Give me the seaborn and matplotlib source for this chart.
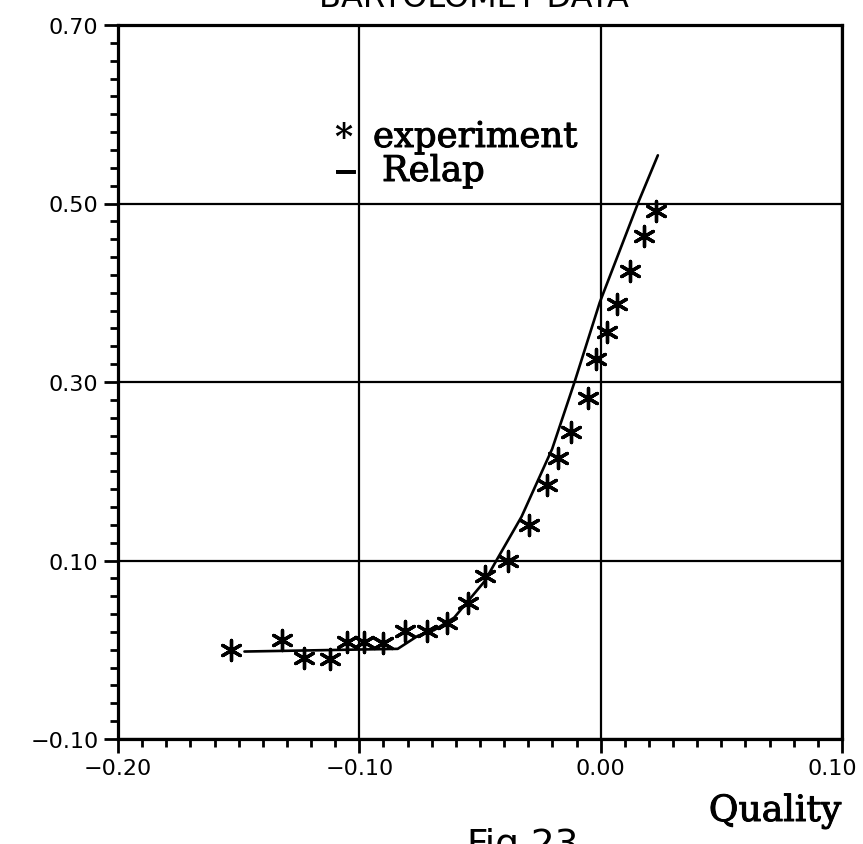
import matplotlib
matplotlib.use("Agg")
import matplotlib.pyplot as plt
import matplotlib.patheffects as pe
import matplotlib.transforms as mtransforms
import seaborn as sns
from matplotlib.ticker import FixedLocator, MultipleLocator

# Measured void fraction (experiment) against quality
exp_quality = [-0.153, -0.132, -0.123, -0.112, -0.105, -0.098, -0.090, -0.081,
               -0.072, -0.0636, -0.055, -0.048, -0.0385, -0.0298, -0.0221,
               -0.0177, -0.0125, -0.0052, -0.0021, 0.0028, 0.0067, 0.012,
               0.018, 0.0228]
exp_value = [0.000, 0.011, -0.009, -0.010, 0.009, 0.009, 0.008, 0.021,
             0.021, 0.030, 0.052, 0.083, 0.099, 0.140, 0.185, 0.2145,
             0.244, 0.282, 0.326, 0.356, 0.387, 0.424, 0.464, 0.492]

# Relap calculation
relap_quality = [-0.1476, -0.0841, -0.0758, -0.069, -0.0607, -0.048, -0.043,
                 -0.0328, -0.0201, -0.0107, -0.0004, 0.0157, 0.0237]
relap_value = [-0.002, 0.001, 0.0155, 0.022, 0.036, 0.077, 0.101,
               0.149, 0.225, 0.301, 0.389, 0.502, 0.554]

x_ticks = [-0.20, -0.10, 0.00, 0.10]
x_tick_labels = ["\u22120.20", "\u22120.10", "0.00", "0.10"]
y_ticks = [-0.10, 0.10, 0.30, 0.50, 0.70]
y_tick_labels = ["\u22120.10", "0.10", "0.30", "0.50", "0.70"]

sns.set_theme(style="white")
plt.rcParams["font.family"] = ["DejaVu Sans"]
plt.rcParams["text.color"] = "black"

W, H = 863, 845
fig = plt.figure(figsize=(W / 100, H / 100), dpi=100)
ax = fig.add_axes([118 / W, 1 - 740 / H, 724 / W, 714 / H])

sns.lineplot(x=relap_quality, y=relap_value, sort=False, estimator=None,
             color="black", linewidth=1.9, ax=ax)
sns.scatterplot(x=exp_quality, y=exp_value, marker=(6, 2, 0), s=210,
                color="black", edgecolor="black", linewidth=2.4, ax=ax,
                zorder=3)

ax.set_xlim(-0.2, 0.1)
ax.set_ylim(-0.1, 0.7)
ax.xaxis.set_major_locator(FixedLocator(x_ticks))
ax.set_xticklabels(x_tick_labels)
ax.yaxis.set_major_locator(FixedLocator(y_ticks))
ax.set_yticklabels(y_tick_labels)
ax.xaxis.set_minor_locator(MultipleLocator(0.01))
ax.yaxis.set_minor_locator(MultipleLocator(0.02))

ax.tick_params(which="major", direction="out", length=10, width=2,
               color="black", labelcolor="black", labelsize=16,
               bottom=True, left=True, top=False, right=False, pad=4)
ax.tick_params(which="minor", direction="out", length=6, width=2,
               color="black", bottom=True, left=True, top=False, right=False)
ax.grid(True, which="major", color="black", linewidth=1.6)
ax.grid(False, which="minor")
for sp in ax.spines.values():
    sp.set_visible(True)
    sp.set_color("black")
    sp.set_linewidth(2.3)
ax.set_xlabel("")
ax.set_ylabel("")

# keep the rightmost x label inside the figure
last = ax.get_xticklabels()[-1]
last.set_transform(last.get_transform() +
                   mtransforms.ScaledTranslation(-10 / 100, 0, fig.dpi_scale_trans))

# legend drawn as text
def axfrac(px, py):
    return (px - 118) / 724, (740 - py) / 714

serif = ["DejaVu Serif"]
heavy = [pe.withStroke(linewidth=0.7, foreground="black")]
x, y = axfrac(334, 148)
ax.text(x, y, "*", transform=ax.transAxes, fontsize=25, family=serif,
        fontweight="bold", ha="left", va="baseline")
x, y = axfrac(373, 148)
ax.text(x, y, "experiment", transform=ax.transAxes, fontsize=25.5,
        family=serif, ha="left", va="baseline", path_effects=heavy)
x, y = axfrac(333, 182)
ax.text(x, y, "\u2212", transform=ax.transAxes, fontsize=22, family=serif,
        ha="left", va="baseline", path_effects=heavy)
x, y = axfrac(382, 182)
ax.text(x, y, "Relap", transform=ax.transAxes, fontsize=25.5,
        family=serif, ha="left", va="baseline", path_effects=heavy)

fig.text(474 / W, 1 - 7 / H, "BARTOLOMEY DATA", fontsize=23,
         family=["DejaVu Sans"], ha="center", va="baseline")
fig.text(775 / W, 1 - 822 / H, "Quality", fontsize=26, family=serif,
         ha="center", va="baseline", path_effects=heavy)
fig.text(523 / W, 1 - 856 / H, "Fig.23", fontsize=27,
         family=["DejaVu Sans"], ha="center", va="baseline")

fig.savefig("out.png", dpi=100)
